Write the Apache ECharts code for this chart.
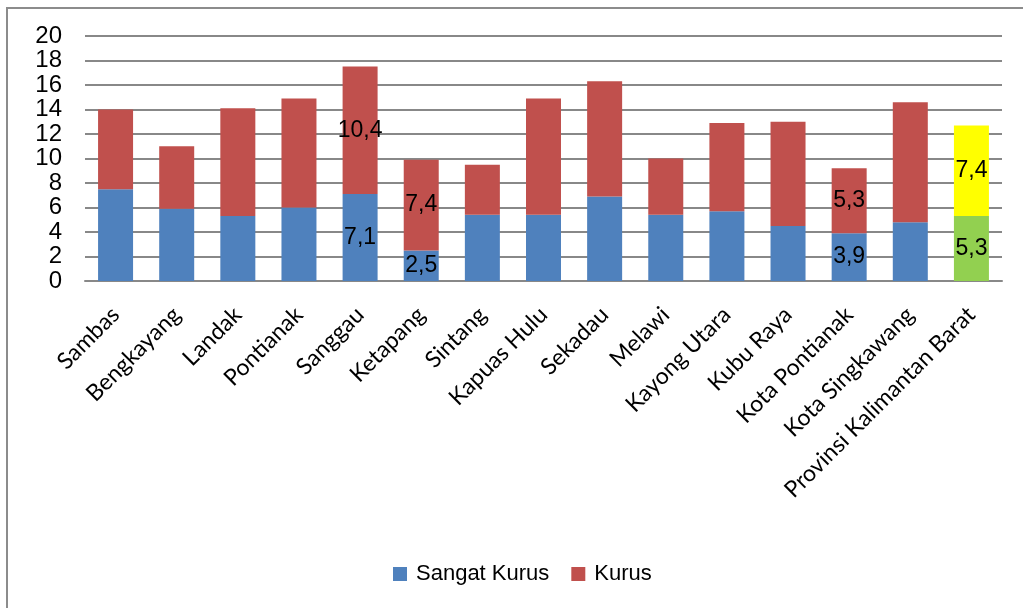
<!DOCTYPE html>
<html>
<head>
<meta charset="utf-8">
<script src="https://cdn.jsdelivr.net/npm/echarts@6/dist/echarts.min.js"></script>
<style>
  html, body { margin: 0; padding: 0; background: #fff; }
  #show { width: 1023px; height: 608px; }
</style>
</head>
<body>
<div id="show"></div>
<script>
var myChart = echarts.init(document.getElementById("show"));

var kabupaten = ["Sambas", "Bengkayang", "Landak", "Pontianak", "Sanggau", "Ketapang", "Sintang",
    "Kapuas Hulu", "Sekadau", "Melawi", "Kayong Utara", "Kubu Raya", "Kota Pontianak",
    "Kota Singkawang", "Provinsi Kalimantan Barat"];
var sangatKurus = [7.5, 5.9, 5.3, 6.0, 7.1, 2.5, 5.4, 5.4, 6.9, 5.4, 5.7, 4.5, 3.9, 4.8, 5.3];
var kurus = [6.5, 5.1, 8.8, 8.9, 10.4, 7.4, 4.1, 9.5, 9.4, 4.6, 7.2, 8.5, 5.3, 9.8, 7.4];
// which bars carry a value label
var labelled = [4, 5, 12, 14];
var provIdx = 14;

function koma(p) {
    return String(p.value).replace('.', ',');
}

function buatData(vals, warnaProv) {
    return vals.map(function (v, i) {
        var d = { value: v };
        if (labelled.indexOf(i) >= 0) {
            d.label = { show: true };
        }
        if (i === provIdx) {
            d.itemStyle = { color: warnaProv };
        }
        return d;
    });
}

var labelStyle = {
    show: false,
    position: 'inside',
    color: '#000',
    fontFamily: 'Liberation Sans',
    fontSize: 23,
    formatter: koma
};

myChart.setOption(option = {
    animation: false,
    graphic: [
        {
            type: 'rect',
            shape: { x: 7, y: 8, width: 1040, height: 640 },
            style: { fill: 'none', stroke: '#8c8c8c', lineWidth: 2 },
            silent: true
        }
    ],
    grid: {
        left: 85,
        right: 21,
        top: 36,
        bottom: 327
    },
    legend: {
        top: 558,
        left: 388,
        itemWidth: 14,
        itemHeight: 14,
        itemGap: 22,
        icon: 'rect',
        textStyle: {
            fontFamily: 'Liberation Sans',
            fontSize: 22,
            color: '#000',
            padding: [0, 0, 0, 4]
        },
        data: ['Sangat Kurus', 'Kurus']
    },
    xAxis: {
        type: 'category',
        data: kabupaten,
        axisLine: { lineStyle: { color: '#888', width: 2 } },
        axisTick: { show: false },
        axisLabel: {
            interval: 0,
            rotate: 45,
            margin: 30,
            color: '#000',
            fontFamily: 'Lato',
            fontSize: 23
        }
    },
    yAxis: {
        type: 'value',
        min: 0,
        max: 20,
        interval: 2,
        axisLine: { show: false },
        axisTick: { show: false },
        splitLine: { lineStyle: { color: '#888', width: 2 } },
        axisLabel: {
            margin: 23,
            color: '#000',
            fontFamily: 'Liberation Sans',
            fontSize: 24
        }
    },
    series: [
        {
            name: 'Sangat Kurus',
            type: 'bar',
            stack: 'gizi',
            barWidth: 35,
            itemStyle: { color: '#4f81bd' },
            label: labelStyle,
            data: buatData(sangatKurus, '#92d050')
        },
        {
            name: 'Kurus',
            type: 'bar',
            stack: 'gizi',
            barWidth: 35,
            itemStyle: { color: '#c0504d' },
            label: labelStyle,
            data: buatData(kurus, '#ffff00')
        }
    ]
});
</script>
</body>
</html>
